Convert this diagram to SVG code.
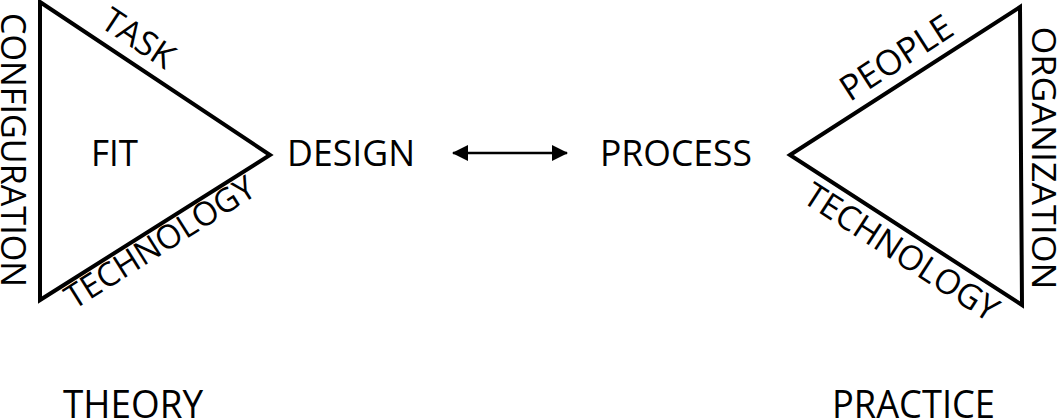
<svg xmlns="http://www.w3.org/2000/svg" width="1063" height="420" viewBox="0 0 1063 420">
<style>
  .tri { fill: none; stroke: #000; stroke-width: 4; stroke-linejoin: miter; }
  .t { font-family: "Open Sans", "DejaVu Sans", sans-serif; fill: #000; }
  .arrow { stroke: #000; stroke-width: 2.5; fill: none; }
</style>
<defs>
  <marker id="ah" viewBox="0 0 16 16" refX="15" refY="8" markerWidth="16" markerHeight="16" markerUnits="userSpaceOnUse" orient="auto-start-reverse">
    <path d="M0,0 L16,8 L0,16 Z" fill="#000"/>
  </marker>
</defs>
<rect width="1063" height="420" fill="#fff"/>
<g id="theory-triangle">
  <polygon class="tri" points="40,2 270,155 40,300"/>
  <text class="t" font-size="36" x="91" y="166" textLength="47" lengthAdjust="spacingAndGlyphs">FIT</text>
  <text class="t" font-size="34" text-anchor="middle" transform="translate(132,48) rotate(33.6)">TASK</text>
  <text class="t" font-size="33" text-anchor="middle" transform="translate(166,252) rotate(-32.2)">TECHNOLOGY</text>
  <text class="t" font-size="34" text-anchor="middle" textLength="274" lengthAdjust="spacingAndGlyphs" transform="translate(1,150) rotate(90)">CONFIGURATION</text>
</g>
<g id="design">
  <text class="t" font-size="36" x="287" y="166" textLength="128" lengthAdjust="spacingAndGlyphs">DESIGN</text>
</g>
<g id="process">
  <text class="t" font-size="36" x="600" y="166" textLength="152" lengthAdjust="spacingAndGlyphs">PROCESS</text>
</g>
<g id="practice-triangle">
  <polygon class="tri" points="790,155 1020,7 1022,305"/>
  <text class="t" font-size="35" text-anchor="middle" transform="translate(903,68) rotate(-32.8)">PEOPLE</text>
  <text class="t" font-size="34" text-anchor="middle" transform="translate(895,262) rotate(32.9)">TECHNOLOGY</text>
  <text class="t" font-size="33" text-anchor="middle" textLength="263" lengthAdjust="spacingAndGlyphs" transform="translate(1032,158) rotate(90)">ORGANIZATION</text>
</g>
<g id="connectors">
  <line class="arrow" x1="453" y1="153" x2="567" y2="153" marker-start="url(#ah)" marker-end="url(#ah)"/>
</g>
<g id="theory">
  <text class="t" font-size="38" x="63" y="418" textLength="140" lengthAdjust="spacingAndGlyphs">THEORY</text>
</g>
<g id="practice">
  <text class="t" font-size="38" x="832" y="418" textLength="163" lengthAdjust="spacingAndGlyphs">PRACTICE</text>
</g>
</svg>
